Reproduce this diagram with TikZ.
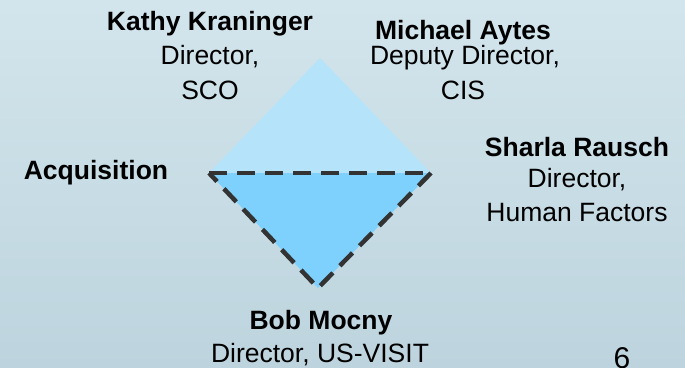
\documentclass[tikz,border=0pt]{standalone}
\usepackage{fontspec}
\setmainfont{Liberation Sans}
\definecolor{bgtop}{HTML}{D3E5EC}
\definecolor{bgbot}{HTML}{BDD4DE}
\definecolor{upperblue}{HTML}{B5E4FA}
\definecolor{lowerblue}{HTML}{7DD1FC}
\definecolor{dashgray}{HTML}{333333}
\tikzset{
  who/.style={font=\fontsize{26.5}{30}\selectfont\bfseries},
  role/.style={font=\fontsize{26.5}{30}\selectfont},
  dashedge/.style={draw=dashgray,line width=4.5pt,dash pattern=on 18pt off 10pt}
}
\begin{document}
\begin{tikzpicture}[x=1pt,y=-1pt]
\shade[top color=bgtop,bottom color=bgbot] (0,0) rectangle (685,367);
\useasboundingbox (0,0) rectangle (685,367);

\coordinate (top) at (320,58);
\coordinate (left) at (209,173);
\coordinate (right) at (431,173);
\coordinate (bottom) at (318,288);
\fill[upperblue] (left)--(top)--(right)--cycle;
\fill[lowerblue] (left)--(right)--(bottom)--cycle;
\draw[dashedge] (left)--(right);
\draw[dashedge] (right)--(bottom)--(left);

\node[who] (kathy) at (210,24) {Kathy Kraninger};
\node[role] (kathyrole) at (210,57) {Director,};
\node[role] (kathyunit) at (210,90) {SCO};

\node[who] (michael) at (463,33) {Michael Aytes};
\node[role] (michaelrole) at (465,58) {Deputy Director,};
\node[role] (michaelunit) at (463,90) {CIS};

\node[who] (acq) at (96,173) {Acquisition};

\node[who] (sharla) at (577,147) {Sharla Rausch};
\node[role] (sharlarole) at (577,180) {Director,};
\node[role] (sharlaunit) at (577,213) {Human Factors};

\node[who] (bob) at (321,323) {Bob Mocny};
\node[role] (bobrole) at (320,355) {Director, US-VISIT};

\node[role,font=\fontsize{30}{34}\selectfont] (page) at (622,358) {6};
\end{tikzpicture}
\end{document}
